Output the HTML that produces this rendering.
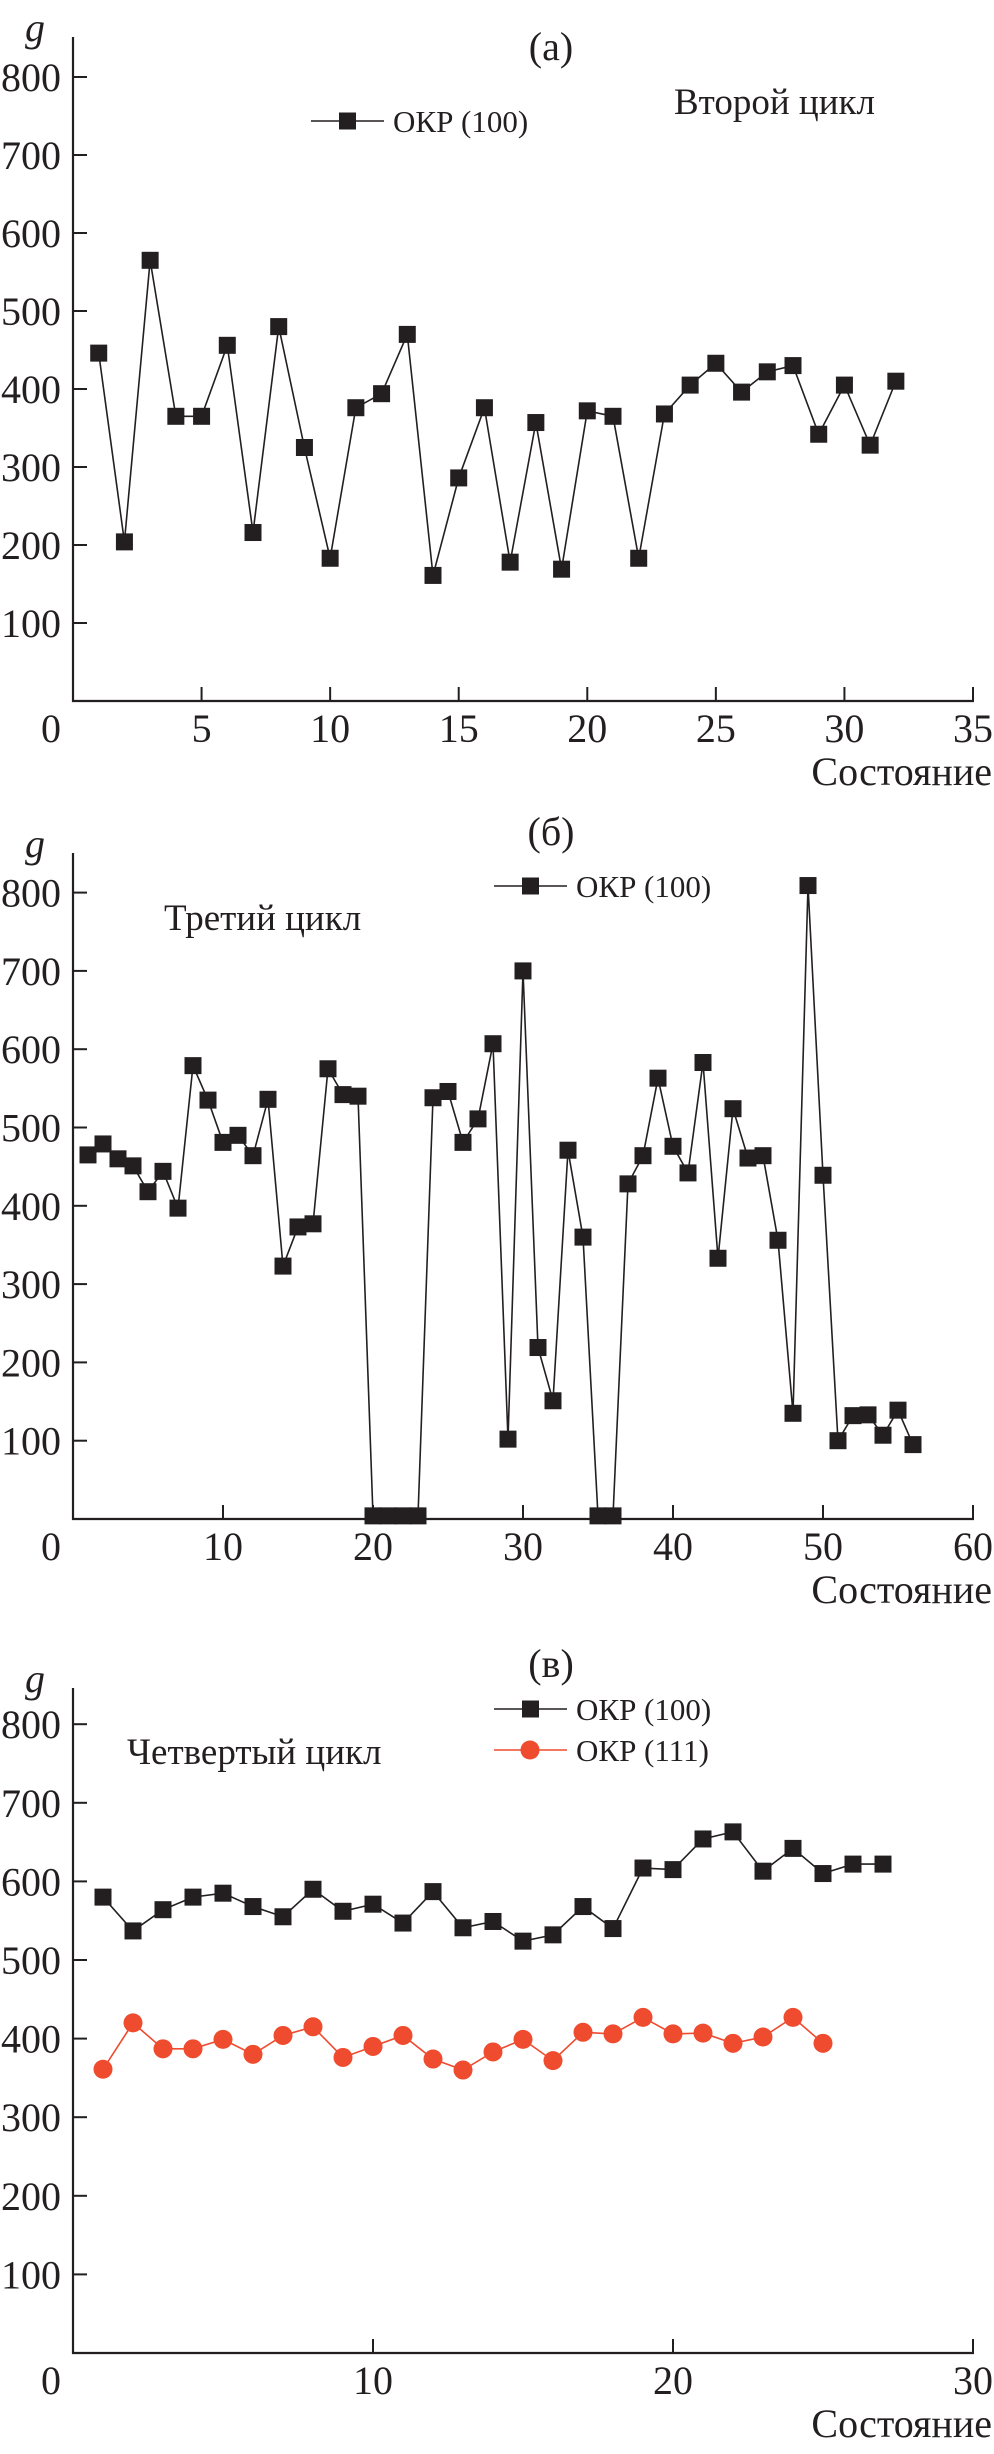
<!DOCTYPE html>
<html><head><meta charset="utf-8"><style>
body{margin:0;background:#fff}
svg{display:block}
svg text{font-family:"Liberation Serif","Times New Roman",serif;fill:#231f20}
</style></head><body>
<svg id="svg" width="994" height="2454" viewBox="0 0 994 2454" font-family="Liberation Serif, serif"></svg>
<script>
const aX = [1,2,3,4,5,6,7,8,9,10,11,12,13,14,15,16,17,18,19,20,21,22,23,24,25,26,27,28,29,30,31,32];
const aVals = [446,204,565,365,365,456,216,480,325,183,376,394,470,161,286,376,178,357,169,372,365,183,368,405,433,396,422,430,342,405,328,410];
const aXTicks = [0,5,10,15,20,25,30,35];
const bX = [1,2,3,4,5,6,7,8,9,10,11,12,13,14,15,16,17,18,19,20,21,22,23,24,25,26,27,28,29,30,31,32,33,34,35,36,37,38,39,40,41,42,43,44,45,46,47,48,49,50,51,52,53,54,55,56];
const bVals = [465,479,460,451,418,444,397,579,535,481,490,464,536,323,373,377,575,542,540,4,4,4,4,538,546,481,511,607,102,700,219,151,471,360,4,4,428,464,563,476,442,583,333,524,461,464,356,135,809,439,100,132,133,107,139,95];
const bXTicks = [0,10,20,30,40,50,60];
const c100X = [1,2,3,4,5,6,7,8,9,10,11,12,13,14,15,16,17,18,19,20,21,22,23,24,25,26,27];
const c100Vals = [580,537,564,580,585,568,555,590,562,571,547,587,541,549,524,532,568,540,617,615,654,663,613,642,610,622,622];
const c111X = [1,2,3,4,5,6,7,8,9,10,11,12,13,14,15,16,17,18,19,20,21,22,23,24,25];
const c111Vals = [361,420,387,387,399,380,404,415,376,390,404,374,360,383,399,372,408,406,427,406,407,394,402,427,394];
const cXTicks = [0,10,20,30];
const yTicks = [100,200,300,400,500,600,700,800];

const NS = "http://www.w3.org/2000/svg";
const svg = document.getElementById('svg');
const FONT = '"Liberation Serif", serif';
function mk(tag, attrs, parent){const e=document.createElementNS(NS,tag);for(const k in attrs)e.setAttribute(k,attrs[k]);if(tag==='text')e.setAttribute('font-family',FONT);(parent||svg).appendChild(e);return e;}

function panel(name, cfg){
  const g = mk('g',{});
  
  
  const x0=73, x1=973;
  const xs = v => x0 + v * (x1 - x0) / cfg.xMax;
  const ys = v => cfg.y0 - v * cfg.ppu;
  const ya = mk('line',{x1:x0,y1:cfg.top,x2:x0,y2:cfg.y0+1,stroke:'#231f20','stroke-width':2.2},g);
  
  
  const xa = mk('line',{x1:x0-1,y1:cfg.y0,x2:x1+1,y2:cfg.y0,stroke:'#231f20','stroke-width':2.2},g);
  
  
  yTicks.forEach(t=>{
    mk('line',{x1:x0,y1:ys(t),x2:x0+14,y2:ys(t),stroke:'#231f20','stroke-width':2},g);
    const tx = mk('text',{x:61,y:ys(t)+14,'font-size':40,'text-anchor':'end'},g);
    tx.textContent=t;
    
    
  });
  cfg.xTicks.forEach(t=>{
    if(t>0) mk('line',{x1:xs(t),y1:cfg.y0,x2:xs(t),y2:cfg.y0-14,stroke:'#231f20','stroke-width':2},g);
    const tx = mk('text',{x:t===0?51:xs(t),y:cfg.y0+41,'font-size':40,'text-anchor':'middle'},g);
    tx.textContent=t;
    
    
  });
  const gl = mk('text',{x:35,y:cfg.top+4,'font-size':40,'font-style':'italic','text-anchor':'middle'},g);
  gl.textContent='g';
  
  
  const xl = mk('text',{x:992,y:cfg.y0+84,'font-size':40,'text-anchor':'end'},g);
  xl.textContent='Состояние';
  
  
  const pl = mk('text',{x:551,y:cfg.labelY,'font-size':40,'text-anchor':'middle'},g);
  pl.textContent=cfg.label;
  
  
  const ct = mk('text',{x:cfg.cycleX,y:cfg.cycleY,'font-size':37},g);
  ct.textContent=cfg.cycle;
  
  
  cfg.series.forEach((s,si)=>{
    const pts = s.x.map((xv,i)=>xs(xv)+','+ys(s.v[i])).join(' ');
    const pl2 = mk('polyline',{points:pts,fill:'none',stroke:s.color,'stroke-width':1.6},g);
    
    
    s.x.forEach((xv,i)=>{
      let m;
      if(s.shape==='sq') m = mk('rect',{x:xs(xv)-8.5,y:ys(s.v[i])-8.5,width:17,height:17,fill:s.color},g);
      else m = mk('circle',{cx:xs(xv),cy:ys(s.v[i]),r:9.5,fill:s.color},g);
      
      
    });
    const ly = cfg.legY + si*41;
    mk('line',{x1:cfg.legX,y1:ly,x2:cfg.legX+73,y2:ly,stroke:s.color,'stroke-width':1.6},g);
    if(s.shape==='sq') mk('rect',{x:cfg.legX+28,y:ly-8.5,width:17,height:17,fill:s.color},g);
    else mk('circle',{cx:cfg.legX+36,cy:ly,r:9.5,fill:s.color},g);
    const lt = mk('text',{x:cfg.legX+82,y:ly+11,'font-size':31},g);
    lt.textContent=s.name;
    
    
  });
}

panel('chart-a',{top:37,y0:701,ppu:0.78,xMax:35,xTicks:aXTicks,label:'(а)',labelY:60,cycle:'Второй цикл',cycleX:674,cycleY:114,legX:311,legY:121,
  series:[{x:aX,v:aVals,color:'#231f20',shape:'sq',name:'ОКР (100)'}]});
panel('chart-b',{top:853,y0:1519,ppu:0.783,xMax:60,xTicks:bXTicks,label:'(б)',labelY:845,cycle:'Третий цикл',cycleX:164,cycleY:930,legX:494,legY:886,
  series:[{x:bX,v:bVals,color:'#231f20',shape:'sq',name:'ОКР (100)'}]});
panel('chart-c',{top:1688,y0:2353,ppu:0.786,xMax:30,xTicks:cXTicks,label:'(в)',labelY:1677,cycle:'Четвертый цикл',cycleX:127,cycleY:1764,legX:494,legY:1709,
  series:[{x:c100X,v:c100Vals,color:'#231f20',shape:'sq',name:'ОКР (100)'},
          {x:c111X,v:c111Vals,color:'#ee4b2f',shape:'ci',name:'ОКР (111)'}]});
</script>
</body></html>
